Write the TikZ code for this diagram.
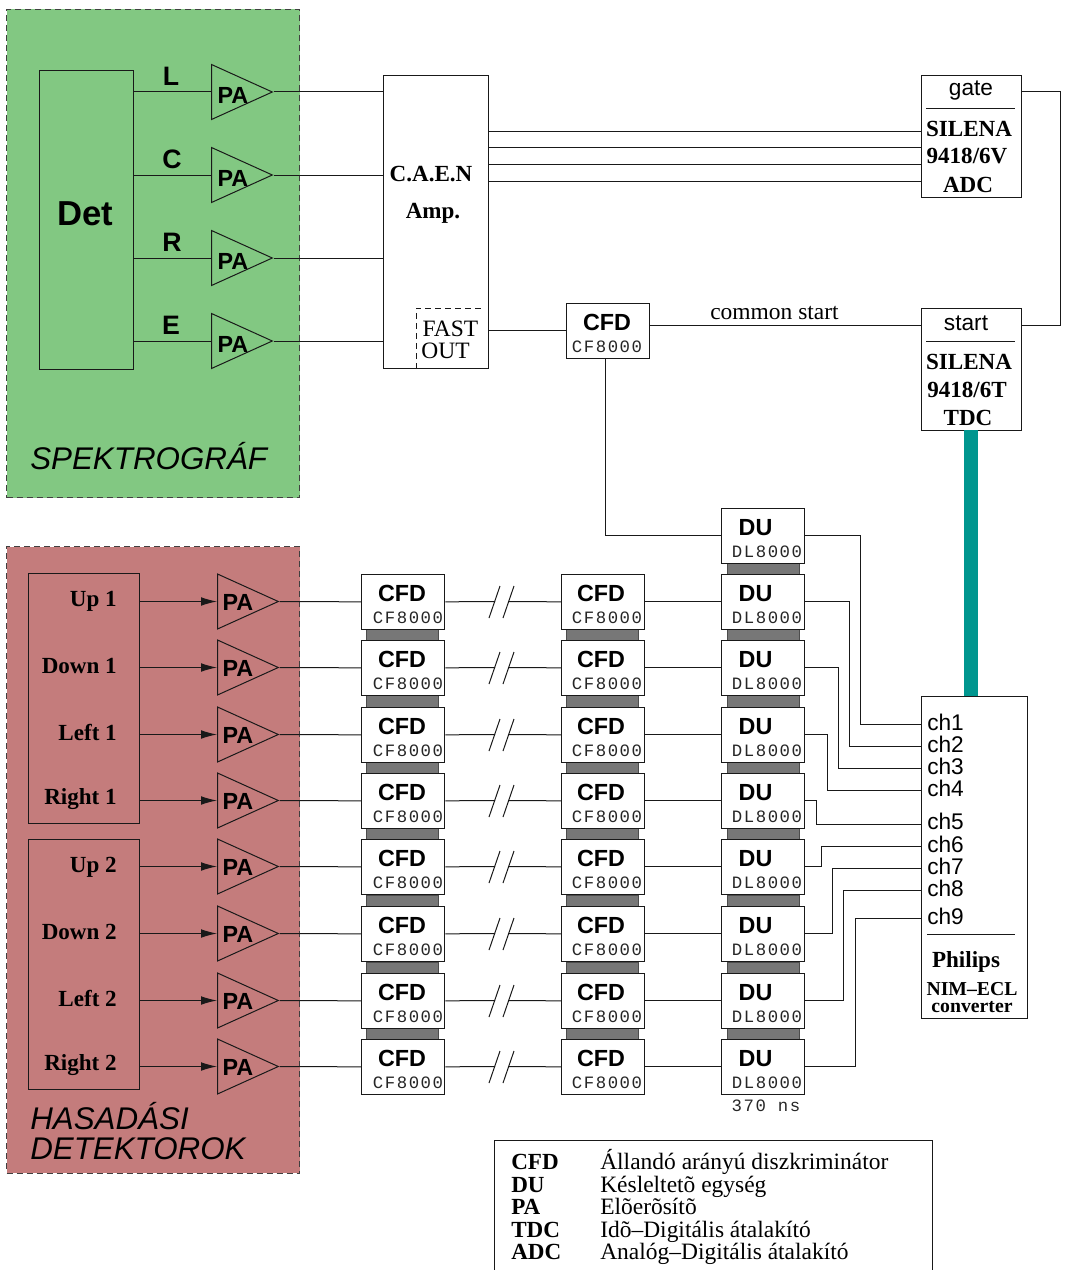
\documentclass[tikz,border=0pt]{standalone}
\usepackage{fontspec}
\usetikzlibrary{shapes.geometric,arrows.meta}
\setmainfont{Liberation Serif}
\newfontfamily\sansf{Liberation Sans}
\newfontfamily\monof[LetterSpace=9]{Liberation Mono}
\definecolor{specgreen}{RGB}{130,200,130}
\definecolor{detred}{RGB}{196,124,124}
\definecolor{tealbar}{RGB}{0,150,143}
\definecolor{barGray}{RGB}{119,119,119}
\tikzset{
  line/.style={line width=0.75pt,black!90},
  panel/.style={draw=black!75,line width=0.75pt,dash pattern=on 4.5pt off 3pt},
  rackbar/.style={fill=barGray,draw=black!70,line width=0.5pt},
  box/.style={draw=black!90,line width=0.75pt,fill=none,inner sep=0pt,minimum width=0pt},
  unit/.style={draw=black!90,line width=0.75pt,fill=white,inner sep=0pt,minimum width=62.5pt,minimum height=41pt},
  tri/.style={shape=isosceles triangle,isosceles triangle stretches=true,draw=black!90,line width=0.75pt,inner sep=0pt,minimum height=45.6pt,minimum width=41.25pt,anchor=lower side},
  sf/.style={font=\sansf\fontsize{17}{17}\selectfont,inner sep=0pt},
  sfb/.style={font=\sansf\bfseries\fontsize{17.5}{17.5}\selectfont,inner sep=0pt},
  sfbig/.style={font=\sansf\bfseries\fontsize{20}{20}\selectfont,inner sep=0pt},
  sfit/.style={font=\sansf\itshape\fontsize{23.5}{23.5}\selectfont,inner sep=0pt,anchor=west},
  sb/.style={font=\bfseries\fontsize{17.3}{17.3}\selectfont,inner sep=0pt},
  sr/.style={font=\fontsize{17.6}{17.6}\selectfont,inner sep=0pt},
  sbs/.style={font=\bfseries\fontsize{14.8}{14.8}\selectfont,inner sep=0pt},
  mono/.style={font=\monof\fontsize{13}{13}\selectfont,inner sep=0pt,text=black!85},
  arr/.style={line,-{Latex[length=12pt,width=6.5pt]}}
}
\begin{document}
\begin{tikzpicture}[x=0.75pt,y=-0.75pt]
\useasboundingbox (0,0) rectangle (1066,1270);
% panels
\node[panel,fill=specgreen,inner sep=0pt,minimum width=220pt,minimum height=366pt,anchor=north west] (spec) at (6,9) {};
\node[panel,fill=detred,inner sep=0pt,minimum width=220pt,minimum height=470pt,anchor=north west] (hasad) at (6,546) {};
\node[sfit] (spectxt) at (30,456) {SPEKTROGRÁF};
\node[sfit] (hastxt1) at (30,1116) {HASADÁSI};
\node[sfit] (hastxt2) at (30,1149) {DETEKTOROK};
% detector
\node[box,minimum width=70.75pt,minimum height=224pt,anchor=north west] (det) at (39,70) {};
\node[font=\sansf\bfseries\fontsize{26}{26}\selectfont,inner sep=0pt] (dettxt) at (85,214) {Det};
\foreach \n/\y/\lx in {L/92/171,C/175/172,R/258/172,E/341/171}{
  \node[tri] (pa\n) at (211,\y) {};
  \node[sfb] (pat\n) at (233,\y+3) {PA};
  \node[sfbig] (lab\n) at (\lx,\y-15.5) {\n};
  \coordinate (dp\n) at (134,\y);
  \coordinate (ap\n) at (383,\y);
  \draw[line] (dp\n) -- (pa\n.lower side);
  \draw[line] (pa\n.apex) -- (ap\n);
}
% amplifier
\node[box,minimum width=79pt,minimum height=220pt,anchor=north west] (amp) at (383,75) {};
\node[sb] (amp1) at (431,174) {C.A.E.N};
\node[sb] (amp2) at (433,213.5) {Amp.};
\coordinate (fo1) at (416,369);
\coordinate (fo2) at (416,308);
\coordinate (fo3) at (485,308);
\draw[line,dash pattern=on 4.5pt off 3pt] (fo1) -- (fo2) -- (fo3);
\node[sr] (fast) at (450.5,328.5) {FAST};
\node[sr] (out) at (445.5,351) {OUT};
% ADC
\node[box,minimum width=74.75pt,minimum height=91.5pt,anchor=north west] (adc) at (921,75) {};
\node[sf] (gate) at (971,91) {gate};
\coordinate (ar1) at (926,108);
\coordinate (ar2) at (1015,108);
\draw[line] (ar1) -- (ar2);
\node[sb] (adc1) at (969,129) {SILENA};
\node[sb] (adc2) at (967,156.5) {9418/6V};
\node[sb] (adc3) at (968,184.5) {ADC};
\foreach \y in {131,147,164,181}{
  \coordinate (as\y) at (489,\y);
  \coordinate (ae\y) at (921,\y);
  \draw[line] (as\y) -- (ae\y);
}
% TDC
\node[box,minimum width=74.75pt,minimum height=91.5pt,anchor=north west] (tdc) at (921,308) {};
\node[sf] (startt) at (966,323) {start};
\coordinate (tr1) at (926,341);
\coordinate (tr2) at (1015,341);
\draw[line] (tr1) -- (tr2);
\node[sb] (tdc1) at (969,362) {SILENA};
\node[sb] (tdc2) at (967,389.5) {9418/6T};
\node[sb] (tdc3) at (968,417.5) {TDC};
\coordinate (g1) at (1021,92);
\coordinate (g2) at (1060,325);
\coordinate (g3) at (1021,325);
\draw[line] (g1) -| (g2) -- (g3);
% teal bar and converter
\node[fill=tealbar,inner sep=0pt,minimum width=10.5pt,minimum height=199.5pt,anchor=north] (teal) at (971,430) {};
\node[box,fill=white,minimum width=79.25pt,minimum height=241.5pt,anchor=north west] (conv) at (921,696) {};
\foreach \i/\y/\ty in {1/724/722,2/746/744.5,3/768/766.5,4/790/788.5,5/824/821.5,6/846/844.5,7/868/866.5,8/890/888.5,9/918/916.5}{
  \coordinate (c\i) at (921,\y);
  \node[sf,anchor=west] (cht\i) at (927,\ty) {ch\i};
}
\coordinate (cr1) at (927,934);
\coordinate (cr2) at (1015,934);
\draw[line] (cr1) -- (cr2);
\node[sb] (phil) at (966,962) {Philips};
\node[sbs] (nim) at (972,989.5) {NIM–ECL};
\node[sbs] (convt) at (972,1007) {converter};
% top CFD
\node[unit,anchor=north west] (cfdT) at (566,303) {};
\node[sfb] (cfdTt) at (607,322.5) {CFD};
\node[mono] (cfdTm) at (607,347) {CF8000};
\coordinate (fast1) at (489,330);
\coordinate (fast2) at (566,330);
\draw[line] (fast1) -- (fast2);
\coordinate (cs1) at (650,325);
\coordinate (cs2) at (921,325);
\draw[line] (cs1) -- (cs2);
\node[sr] (cstxt) at (774.5,313) {common start};
\coordinate (tc1) at (605,358);
% rack bars
\foreach \k/\t in {0/563,1/629,2/695,3/762,4/828,5/895,6/962,7/1028}{
  \node[rackbar,inner sep=0pt,minimum width=54pt,minimum height=9pt,anchor=north] (barD\k) at (763,\t) {};
}
\foreach \k/\t in {1/629,2/695,3/762,4/828,5/895,6/962,7/1028}{
  \node[rackbar,inner sep=0pt,minimum width=54pt,minimum height=9pt,anchor=north] (barA\k) at (402.5,\t) {};
  \node[rackbar,inner sep=0pt,minimum width=54pt,minimum height=9pt,anchor=north] (barB\k) at (602.5,\t) {};
}
% DU top
\node[unit,anchor=north west] (du0) at (721,508) {};
\node[sfb] (du0t) at (755.5,527.5) {DU};
\node[mono] (du0m) at (767,552) {DL8000};
\draw[line] (tc1) |- (du0.west);
% rows
\foreach \i/\t in {1/574,2/640,3/707,4/773,5/839,6/906,7/973,8/1039}{
  \node[tri] (pb\i) at (217,\t+27.5) {};
  \node[sfb] (pbt\i) at (238,\t+28.5) {PA};
  \coordinate (src\i) at (140,\t+27.5);
  \draw[arr] (src\i) -- (pb\i.lower side);
  \node[unit,anchor=north west] (cfdA\i) at (361,\t) {};
  \node[sfb] (cfdAt\i) at (402,\t+19.5) {CFD};
  \node[mono] (cfdAm\i) at (408,\t+44) {CF8000};
  \node[unit,anchor=north west] (cfdB\i) at (561,\t) {};
  \node[sfb] (cfdBt\i) at (601,\t+19.5) {CFD};
  \node[mono] (cfdBm\i) at (607,\t+44) {CF8000};
  \node[unit,anchor=north west] (du\i) at (721,\t) {};
  \node[sfb] (dut\i) at (755.5,\t+19.5) {DU};
  \node[mono] (dum\i) at (767,\t+44) {DL8000};
  \draw[line] (pb\i.apex) -- (cfdA\i.west);
  \coordinate (sa\i) at (489,\t+44);
  \coordinate (sb\i) at (500,\t+12);
  \coordinate (sc\i) at (503,\t+44);
  \coordinate (sd\i) at (514,\t+12);
  \coordinate (ml\i) at (495,\t+27.5);
  \coordinate (mr\i) at (508,\t+27.5);
  \draw[line] (cfdA\i.east) -- (ml\i);
  \draw[line] (mr\i) -- (cfdB\i.west);
  \draw[line] (sa\i) -- (sb\i);
  \draw[line] (sc\i) -- (sd\i);
  \draw[line] (cfdB\i.east) -- (du\i.west);
}
\node[box,minimum width=83.5pt,minimum height=187.5pt,anchor=north west] (grp1) at (28,573) {};
\node[box,minimum width=83.5pt,minimum height=187.5pt,anchor=north west] (grp2) at (28,839) {};
\foreach \i/\s/\y in {a/Up 1/601,b/Down 1/666,c/Left 1/732.5,d/Right 1/799,e/Up 2/867,f/Down 2/932,g/Left 2/998.5,h/Right 2/1065}{
  \node[sb,anchor=east] (lbl\i) at (117,\y) {\s};
}
\node[mono] (ns) at (766,1106) {370 ns};
% delay outputs to converter
\coordinate (j0) at (860,724);
\coordinate (j1) at (849,746);
\coordinate (j2) at (838,768);
\coordinate (j3) at (827,790);
\coordinate (j4) at (816,824);
\coordinate (j5) at (821,846);
\coordinate (j6) at (832,868);
\coordinate (j7) at (843,890);
\coordinate (j8) at (855,918);
\draw[line] (du0.east) -| (j0) -- (c1);
\draw[line] (du1.east) -| (j1) -- (c2);
\draw[line] (du2.east) -| (j2) -- (c3);
\draw[line] (du3.east) -| (j3) -- (c4);
\draw[line] (du4.east) -| (j4) -- (c5);
\draw[line] (du5.east) -| (j5) -- (c6);
\draw[line] (du6.east) -| (j6) -- (c7);
\draw[line] (du7.east) -| (j7) -- (c8);
\draw[line] (du8.east) -| (j8) -- (c9);
% legend
\coordinate (lg1) at (494,1270);
\coordinate (lg2) at (494,1140);
\coordinate (lg3) at (932,1140);
\coordinate (lg4) at (932,1270);
\draw[line] (lg1) -- (lg2) -- (lg3) -- (lg4);
\foreach \i/\a/\b/\y in {1/CFD/Állandó arányú diszkriminátor/1169,2/DU/Késleltetõ egység/1192,3/PA/Elõerõsítõ/1214,4/TDC/Idõ–Digitális átalakító/1237,5/ADC/Analóg–Digitális átalakító/1259}{
  \node[sb,anchor=base west] (lga\i) at (511,\y) {\a};
  \node[sr,anchor=base west] (lgb\i) at (600,\y) {\b};
}
\end{tikzpicture}
\end{document}
